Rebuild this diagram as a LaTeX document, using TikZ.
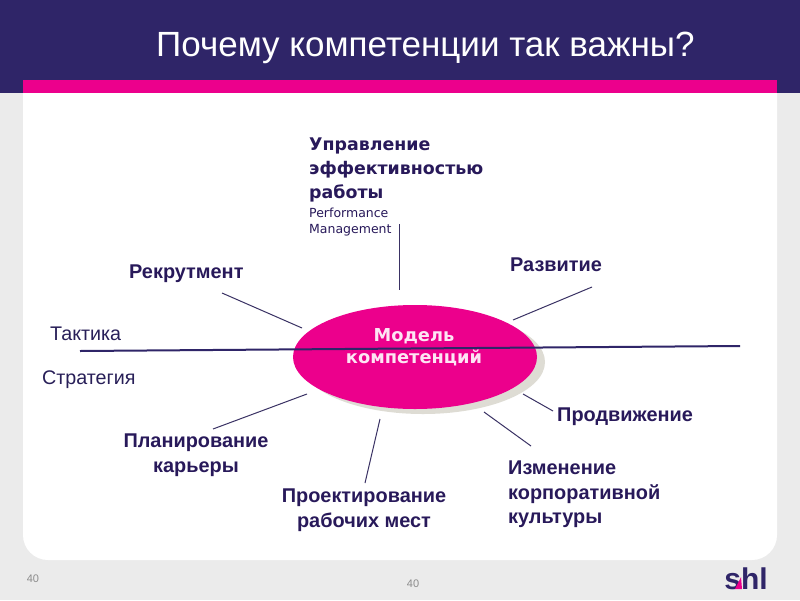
\documentclass[tikz,border=0pt]{standalone}
\usepackage{fontspec}
\setmainfont{Liberation Sans}
\newfontfamily\wideface{DejaVu Sans}
\usetikzlibrary{shapes.geometric}
\definecolor{HeaderColor}{RGB}{47,37,104}
\definecolor{PinkColor}{RGB}{236,0,140}
\definecolor{PageColor}{RGB}{235,235,235}
\definecolor{ShadowColor}{RGB}{222,220,212}
\definecolor{SpokeColor}{RGB}{58,50,100}
\definecolor{LabelColor}{RGB}{40,25,90}
\definecolor{GreyText}{RGB}{140,140,140}
\tikzset{
  boldlabel/.style={font=\fontsize{19.9}{24.5}\selectfont\bfseries, text=LabelColor, inner sep=0pt},
  widelabel/.style={font=\wideface\fontsize{17.4}{24}\selectfont\bfseries, text=LabelColor, inner sep=0pt},
  planelabel/.style={font=\fontsize{19.7}{21}\selectfont, text=HeaderColor!85!black, inner sep=0pt},
  pagenum/.style={font=\fontsize{11}{13}\selectfont, text=GreyText, inner sep=0pt},
  spoke/.style={draw=SpokeColor, line width=1pt},
}
\begin{document}
\begin{tikzpicture}[x=1pt, y=-1pt]
  \useasboundingbox (0,0) rectangle (800,600);
  % background and header
  \fill[PageColor] (0,0) rectangle (800,600);
  \fill[HeaderColor] (0,0) rectangle (800,93);
  \fill[PinkColor] (23,80) rectangle (777,93);
  \fill[white] (23,93) -- (777,93) [rounded corners=25pt] -- (777,560) -- (23,560) [sharp corners] -- cycle;
  \node[font=\fontsize{35}{40}\selectfont, text=white, inner sep=0pt, anchor=base west] (title) at (156,56) {Почему компетенции так важны?};

  % centre
  \fill[ShadowColor] (423,362) ellipse[x radius=122, y radius=52];
  \node[ellipse, fill=PinkColor, minimum width=244pt, minimum height=104pt, inner sep=0pt] (model) at (415,357) {};
  \node[font=\wideface\fontsize{17.8}{22}\selectfont\bfseries, text=white!90!PinkColor, align=center, inner sep=0pt] (modeltext) at (414,347) {Модель\\компетенций};

  % labels
  \node[widelabel, anchor=north west, align=left] (upravl) at (309,138) {Управление\\эффективностью\\работы};
  \node[anchor=north west, align=left, inner sep=0pt, text=LabelColor, font=\wideface\fontsize{12.5}{15.5}\selectfont] (perf) at (309,208) {Performance\\Management};
  \node[boldlabel, anchor=base west] (rekrut) at (129,278) {Рекрутмент};
  \node[boldlabel, anchor=base west] (razvit) at (510,271) {Развитие};
  \node[boldlabel, anchor=base west] (prodv) at (557,421) {Продвижение};
  \node[boldlabel, align=center, anchor=north] (plan) at (196,434) {Планирование\\карьеры};
  \node[boldlabel, align=center, anchor=north] (proekt) at (364,489) {Проектирование\\рабочих мест};
  \node[boldlabel, align=left, anchor=north west] (kultur) at (508,461) {Изменение\\корпоративной\\культуры};
  \node[planelabel, anchor=base west] (taktika) at (50,340) {Тактика};
  \node[planelabel, anchor=base west] (strateg) at (42,384) {Стратегия};

  % spokes
  \foreach \name/\ax/\ay/\bx/\by in {
    upr/399/224/399/290, rek/222/293/302/328, raz/592/287/513/320, pla/213/429/307/394,
    pro/365/483/380/419, izm/531/446/484/412, prd/553/411/523/394
  }{
    \coordinate (\name a) at (\ax,\ay);
    \coordinate (\name b) at (\bx,\by);
    \draw[spoke] (\name a)--(\name b);
  }
  \coordinate (linea) at (80,351);
  \coordinate (lineb) at (740,346);
  \draw[draw=HeaderColor, line width=2pt] (linea)--(lineb);

  % footer
  \node[pagenum, anchor=base] (numa) at (33,582) {40};
  \node[pagenum, anchor=base] (numb) at (413,587) {40};
  \node[font=\fontsize{30}{30}\selectfont\bfseries, text=HeaderColor, inner sep=0pt, anchor=base] (logo) at (746,589) {shl};
  \fill[PinkColor] (735,589) -- (741,577) -- (742,589) -- cycle;
\end{tikzpicture}
\end{document}
